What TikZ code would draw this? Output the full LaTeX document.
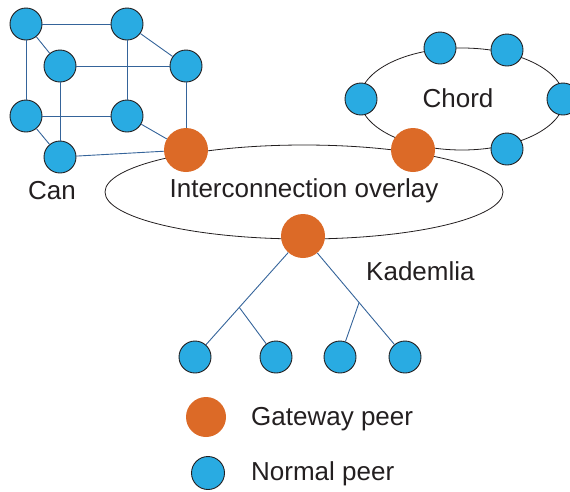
\documentclass[tikz,border=0pt]{standalone}
\usepackage{fontspec}
\setmainfont{Liberation Sans}
\usetikzlibrary{calc}
\definecolor{peerblue}{HTML}{29ABE2}
\definecolor{gateorange}{HTML}{DC6A27}
\definecolor{linkblue}{HTML}{35649A}
\definecolor{ink}{HTML}{231F20}
\tikzset{
  normal/.style={circle, fill=peerblue, draw=ink, line width=0.9pt, minimum size=32pt, inner sep=0pt},
  gateway/.style={circle, fill=gateorange, draw=none, minimum size=44pt, inner sep=0pt},
  link/.style={draw=linkblue, line width=0.9pt},
  ring/.style={draw=ink, line width=0.8pt},
  lbl/.style={text=ink, font=\fontsize{26}{29}\selectfont, inner sep=0pt}
}
\begin{document}
\begin{tikzpicture}[x=1pt,y=-1pt]
\useasboundingbox (0,0) rectangle (570,491);

% overlay rings
\draw[ring] (304,192) ellipse [x radius=199, y radius=47];
\draw[ring] (462,99) ellipse [x radius=102, y radius=51];

% CAN cube
\node[normal] (a) at (26,24) {};
\node[normal] (b) at (127,24) {};
\node[normal] (c) at (60,66) {};
\node[normal] (d) at (186,66) {};
\node[normal] (e) at (26,116) {};
\node[normal] (f) at (127,116) {};
\node[normal] (g) at (60,157) {};
\node[gateway] (gcan) at (186,150) {};

% Chord ring
\node[normal] (c1) at (361,99) {};
\node[normal] (c2) at (440,48) {};
\node[normal] (c3) at (507,50) {};
\node[normal] (c4) at (563,99) {};
\node[normal] (c5) at (507,149) {};
\node[gateway] (gchord) at (413,150) {};

% Kademlia tree
\node[gateway] (gkad) at (303,236) {};
\node[normal] (l1) at (195,357) {};
\node[normal] (l2) at (276,357) {};
\node[normal] (l3) at (340,357) {};
\node[normal] (l4) at (405,357) {};
\coordinate (jl) at ($(gkad)!0.59!(l1)$);
\coordinate (jr) at ($(gkad)!0.55!(l4)$);

% cube edges
\draw[link] (a) -- (b);
\draw[link] (a) -- (c);
\draw[link] (a) -- (e);
\draw[link] (b) -- (d);
\draw[link] (b) -- (f);
\draw[link] (c) -- (d);
\draw[link] (c) -- (g);
\draw[link] (d) -- (gcan);
\draw[link] (e) -- (f);
\draw[link] (e) -- (g);
\draw[link] (f) -- (gcan);
\draw[link] (g) -- (gcan);

% tree branches
\draw[link] (gkad) -- (l1);
\draw[link] (jl) -- (l2);
\draw[link] (gkad) -- (l4);
\draw[link] (jr) -- (l3);

% labels
\node[lbl] (tcan) at (52,191) {Can};
\node[lbl] (tchord) at (458,98) {Chord};
\node[lbl] (tover) at (304,191) {Interconnection overlay};
\node[lbl, anchor=west] (tkad) at (366,271) {Kademlia};

% legend
\node[gateway, minimum size=40pt] (kg) at (206,417) {};
\node[normal, minimum size=33pt] (kn) at (208,473) {};
\node[lbl, anchor=west] (tkg) at (251,419) {Gateway peer};
\node[lbl, anchor=west] (tkn) at (251,474) {Normal peer};
\end{tikzpicture}
\end{document}
